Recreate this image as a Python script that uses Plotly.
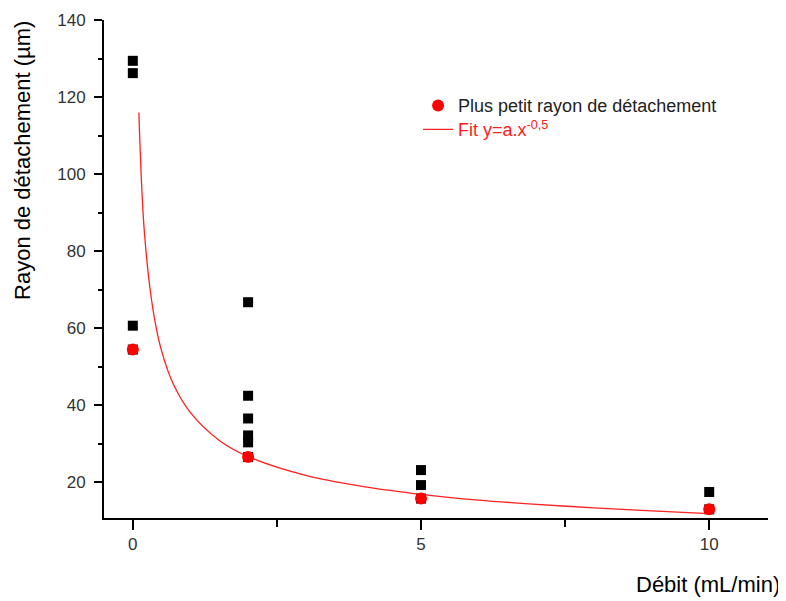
import plotly.graph_objects as go

# Data
debit_black = [0, 0, 0, 0, 2, 2, 2, 2, 2, 2, 5, 5, 5, 10, 10]
rayon_black = [129.4, 126.2, 60.6, 54.4, 66.7, 42.4, 36.5, 32.1, 30.3, 26.5, 23.1, 19.2, 15.7, 17.4, 12.9]

debit_min = [0, 2, 5, 10]
rayon_min = [54.4, 26.5, 15.7, 12.9]

fit_x = [0.105, 0.15, 0.2, 0.3, 0.4, 0.5, 0.7, 1, 1.5, 2, 3, 4, 5, 6, 7, 8, 9, 10]
fit_y = [116.0, 98.0, 85.0, 70.0, 60.5, 54.0, 45.5, 38.0, 30.8, 26.6, 21.7, 18.8, 16.8, 15.3, 14.2, 13.3, 12.5, 11.8]

x_ticks = [0, 5, 10]
y_ticks = [20, 40, 60, 80, 100, 120, 140]

FONT = "Liberation Sans, Arial, sans-serif"

fig = go.Figure()
fig.add_trace(go.Scatter(
    x=debit_black, y=rayon_black, mode="markers",
    marker=dict(symbol="square", size=10, color="black"),
    showlegend=False))
fig.add_trace(go.Scatter(
    x=fit_x, y=fit_y, mode="lines", line=dict(color="#ff2020", width=1.3, shape="spline"),
    name="<span style='color:#ff2020'>Fit y=a.x<sup>-0,5</sup></span>", legend="legend2"))
fig.add_trace(go.Scatter(
    x=debit_min, y=rayon_min, mode="markers",
    marker=dict(symbol="circle", size=12, color="#ff0000"),
    name="Plus petit rayon de détachement", legend="legend"))

axis_common = dict(showline=True, linecolor="black", linewidth=2, ticks="outside",
                   tickcolor="black", tickwidth=2, showgrid=False, zeroline=False,
                   tickfont=dict(family=FONT, size=17, color="#333333"))

# The page body adds an 8px offset; the figure is sized to fill the 786x601 window
fig.update_layout(
    width=778, height=593,
    margin=dict(l=96, r=18, t=12, b=83, autoexpand=False),
    paper_bgcolor="white", plot_bgcolor="white",
    font=dict(family=FONT, color="#222222"),
    xaxis=dict(range=[-0.5, 11.02], tickvals=x_ticks, ticklen=10,
               minor=dict(dtick=2.5, tick0=0, ticks="outside", ticklen=7, tickwidth=2, tickcolor="black"),
               **axis_common),
    yaxis=dict(range=[10.65, 140], tickvals=y_ticks, ticklen=8, ticklabelstandoff=5,
               minor=dict(dtick=10, tick0=0, ticks="outside", ticklen=4, tickwidth=2, tickcolor="black"),
               **axis_common),
    legend=dict(x=0.473, y=0.865, xanchor="left", yanchor="top", bgcolor="rgba(0,0,0,0)",
                font=dict(family=FONT, size=18, color="#222222")),
    legend2=dict(x=0.473, y=0.817, xanchor="left", yanchor="top", bgcolor="rgba(0,0,0,0)",
                 font=dict(family=FONT, size=18, color="#ff2020")),
    annotations=[
        dict(text="Rayon de détachement (µm)", xref="paper", yref="paper",
             x=-0.122, y=0.719, textangle=-90, showarrow=False,
             font=dict(family=FONT, size=22, color="black"), xanchor="center", yanchor="middle"),
        dict(text="Débit (mL/min)", xref="paper", yref="paper",
             x=1.021, y=-0.1345, showarrow=False, xanchor="right", yanchor="middle",
             font=dict(family=FONT, size=22, color="black")),
    ],
)

fig.write_html("out.html")
